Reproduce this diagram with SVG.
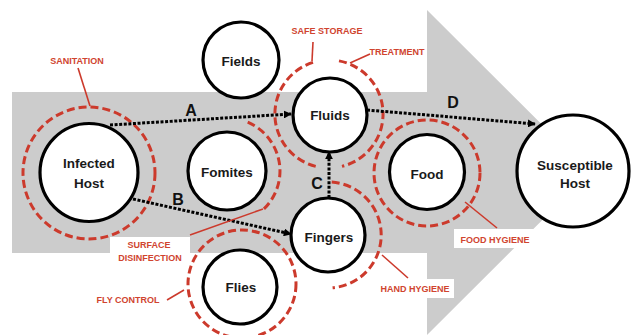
<svg xmlns="http://www.w3.org/2000/svg" width="639" height="335" viewBox="0 0 639 335">
<defs>
<style>
.node{fill:#fff;stroke:#000;stroke-width:3.2}
.nt{font-family:"Liberation Sans",Arial,sans-serif;font-weight:bold;font-size:13.5px;fill:#1a1a1a;text-anchor:middle}
.ring{fill:none;stroke:#cc3a2c;stroke-width:3;stroke-dasharray:8 4}
.lead{stroke:#cc3a2c;stroke-width:1.6;fill:none}
.lt{font-family:"Liberation Sans",Arial,sans-serif;font-weight:bold;font-size:9px;fill:#d0442f;text-anchor:middle}
.dot{fill:none;stroke:#000;stroke-width:3;stroke-dasharray:3 1.6}
.let{font-family:"Liberation Sans",Arial,sans-serif;font-weight:bold;font-size:16px;fill:#111;text-anchor:middle}
.box{fill:#fff}
</style>
<marker id="ah" viewBox="0 0 10 10" refX="9" refY="5" markerWidth="8" markerHeight="8" markerUnits="userSpaceOnUse" orient="auto">
<path d="M0,0 L10,5 L0,10 z" fill="#000"/>
</marker>
</defs>
<rect width="639" height="335" fill="#fff"/>
<polygon id="big-arrow" points="12,92 427,92 427,10 590,172.5 427,335 427,253 12,253" fill="#cccccc"/>
<g id="label-boxes">
<rect class="box" x="110" y="237" width="80" height="29"/>
<rect class="box" x="377" y="279" width="77" height="19"/>
<rect class="box" x="454" y="229" width="82" height="19"/>
</g>
<g id="rings">
<circle class="ring" cx="89" cy="173" r="66"/>
<path class="ring" d="M313,62.4 A54,54 0 0 0 318,166.9"/>
<path class="ring" d="M339,60.9 A54,54 0 0 1 342,166.4"/>
<path class="ring" d="M247.7,122.2 A53,53 0 0 1 263.8,209.1"/>
<path class="ring" d="M331.7,182.1 A53,53 0 0 1 332.6,287.8"/>
<circle class="ring" cx="427" cy="173" r="53"/>
<circle class="ring" cx="242" cy="284" r="54"/>
</g>
<g id="connectors">
<line class="dot" x1="110" y1="125" x2="291" y2="114" marker-end="url(#ah)"/>
<line class="dot" x1="133" y1="199" x2="291" y2="234" marker-end="url(#ah)"/>
<line class="dot" x1="329" y1="198" x2="329" y2="152" marker-end="url(#ah)"/>
<line class="dot" x1="367" y1="110" x2="535" y2="124" marker-end="url(#ah)"/>
</g>
<g id="edge-labels">
<text class="let" x="191" y="116">A</text>
<text class="let" x="178" y="205">B</text>
<text class="let" x="317" y="189">C</text>
<text class="let" x="453" y="108">D</text>
</g>
<g id="infected-host"><circle class="node" cx="89" cy="172.5" r="49"/><text class="nt" x="89" y="168">Infected</text><text class="nt" x="89" y="188">Host</text></g>
<g id="fields"><circle class="node" cx="241" cy="60" r="38"/><text class="nt" x="241" y="66">Fields</text></g>
<g id="fomites"><circle class="node" cx="227" cy="171" r="39"/><text class="nt" x="227" y="177">Fomites</text></g>
<g id="fluids"><circle class="node" cx="330" cy="115" r="37"/><text class="nt" x="330" y="120">Fluids</text></g>
<g id="fingers"><circle class="node" cx="328" cy="235" r="37"/><text class="nt" x="329" y="242">Fingers</text></g>
<g id="food"><circle class="node" cx="427" cy="172" r="37.5"/><text class="nt" x="427" y="179">Food</text></g>
<g id="flies"><circle class="node" cx="240" cy="287" r="37"/><text class="nt" x="241" y="292">Flies</text></g>
<g id="susceptible-host"><circle class="node" cx="573" cy="171" r="56"/><text class="nt" x="575" y="170">Susceptible</text><text class="nt" x="575" y="188">Host</text></g>
<g id="interventions">
<line class="lead" x1="78" y1="68" x2="90" y2="106"/>
<text class="lt" x="77" y="64">SANITATION</text>
<line class="lead" x1="313" y1="42" x2="312" y2="61"/>
<text class="lt" x="327" y="34">SAFE STORAGE</text>
<line class="lead" x1="350" y1="63" x2="370" y2="54"/>
<text class="lt" x="397" y="55">TREATMENT</text>
<line class="lead" x1="190" y1="235" x2="263" y2="209"/>
<text class="lt" x="149" y="248">SURFACE</text>
<text class="lt" x="150" y="261">DISINFECTION</text>
<line class="lead" x1="167" y1="300" x2="184" y2="290"/>
<text class="lt" x="128" y="303">FLY CONTROL</text>
<line class="lead" x1="382" y1="255" x2="408" y2="278"/>
<text class="lt" x="415" y="292">HAND HYGIENE</text>
<line class="lead" x1="465" y1="202" x2="497" y2="228"/>
<text class="lt" x="495" y="243">FOOD HYGIENE</text>
</g>
</svg>
